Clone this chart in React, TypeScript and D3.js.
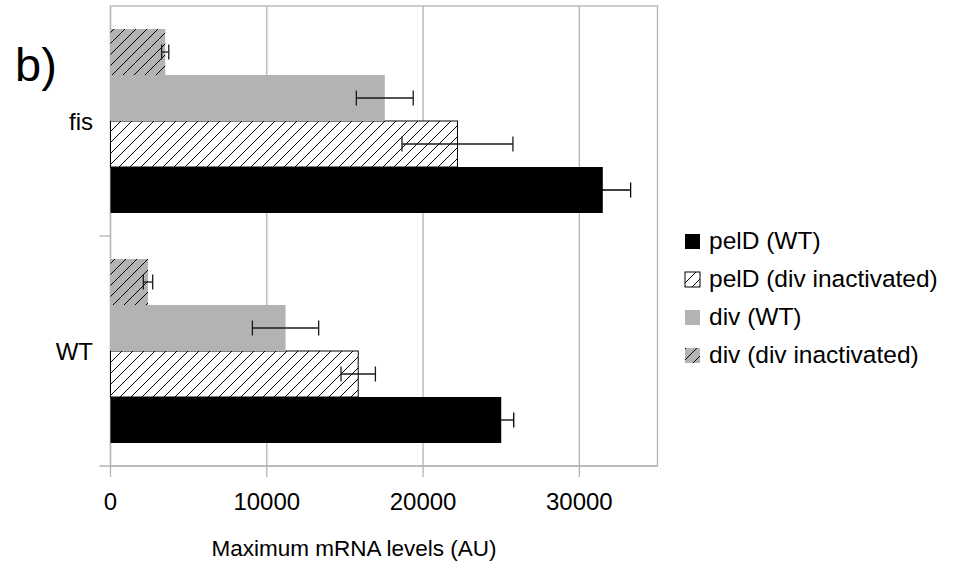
import React from "react";
import * as d3 from "d3";

const categories = ["fis", "WT"];
const seriesNames = ["pelD (WT)", "pelD (div inactivated)", "div (WT)", "div (div inactivated)"];
// values per category, in series order
const pelDWT = [31500, 25000];
const pelDDivInact = [22200, 15850];
const divWT = [17550, 11200];
const divDivInact = [3500, 2400];
const pelDWTErr = [1780, 800];
const pelDDivInactErr = [3550, 1100];
const divWTErr = [1820, 2120];
const divDivInactErr = [230, 300];
const xTicks = [0, 10000, 20000, 30000];

const W = 965;
const H = 567;
const left = 110.5;
const right = 657.5;
const top = 6;
const bottom = 466;

const styles = [
  { fill: "#000000", hatch: false, stroke: "none", err: "#000" },
  { fill: "#ffffff", hatch: true, stroke: "#000", err: "#1a1a1a" },
  { fill: "#b3b3b3", hatch: false, stroke: "none", err: "#1a1a1a" },
  { fill: "#b3b3b3", hatch: true, stroke: "none", err: "#1a1a1a" },
];

export default function App() {
  const x = d3.scaleLinear().domain([0, 35000]).range([left, right]);
  const y = d3.scaleBand<string>().domain(categories).range([top, bottom]);
  const bw = y.bandwidth();
  // top-to-bottom order inside a category
  const inner = d3
    .scaleBand<string>()
    .domain([seriesNames[3], seriesNames[2], seriesNames[1], seriesNames[0]])
    .range([bw * 0.1, bw * 0.9]);
  const values = [pelDWT, pelDDivInact, divWT, divDivInact];
  const errs = [pelDWTErr, pelDDivInactErr, divWTErr, divDivInactErr];
  const font = "'Liberation Sans', Arial, sans-serif";
  const grid = "#b3b3b3";

  return (
    <svg width={W} height={H} style={{ position: "absolute", left: 0, top: 0 }} fontFamily={font}>
      <defs>
        <pattern id="hatchW" patternUnits="userSpaceOnUse" width={11} height={11}>
          <rect width={11} height={11} fill="#fff" />
          <path d="M-1,1 L1,-1 M0,11 L11,0 M10,12 L12,10" stroke="#000" strokeWidth={1} />
        </pattern>
        <pattern id="hatchG" patternUnits="userSpaceOnUse" width={11} height={11}>
          <rect width={11} height={11} fill="#b3b3b3" />
          <path d="M-1,1 L1,-1 M0,11 L11,0 M10,12 L12,10" stroke="#000" strokeWidth={1} />
        </pattern>
      </defs>
      <rect width={W} height={H} fill="#fff" />
      {/* plot border */}
      <rect x={left} y={top} width={right - left} height={bottom - top} fill="none" stroke={grid} strokeWidth={1.3} />
      {/* gridlines */}
      {xTicks.map((t) => (
        <line key={t} x1={x(t)} x2={x(t)} y1={top} y2={bottom + 11} stroke={grid} strokeWidth={1.3} />
      ))}
      {/* bottom axis */}
      <line x1={left - 11} x2={right} y1={bottom} y2={bottom} stroke={grid} strokeWidth={1.3} />
      {/* category ticks */}
      {[top + bw].map((v) => (
        <line key={v} x1={left - 11} x2={left} y1={v} y2={v} stroke={grid} strokeWidth={1.3} />
      ))}
      {/* bars */}
      {categories.map((c, ci) =>
        seriesNames.map((s, si) => {
          const st = styles[si];
          const yy = (y(c) as number) + (inner(s) as number);
          const fill = st.hatch ? (si === 1 ? "url(#hatchW)" : "url(#hatchG)") : st.fill;
          return (
            <rect
              key={c + s}
              x={x(0)}
              y={yy}
              width={x(values[si][ci]) - x(0)}
              height={inner.bandwidth()}
              fill={fill}
              stroke={st.stroke}
              strokeWidth={1}
            />
          );
        })
      )}
      {/* error bars */}
      {categories.map((c, ci) =>
        seriesNames.map((s, si) => {
          const cy = (y(c) as number) + (inner(s) as number) + inner.bandwidth() / 2;
          const v = values[si][ci];
          const e = errs[si][ci];
          const x1 = x(v - e);
          const x2 = x(v + e);
          return (
            <g key={"e" + c + s} stroke={styles[si].err} strokeWidth={1.3}>
              <line x1={x1} x2={x2} y1={cy} y2={cy} />
              <line x1={x1} x2={x1} y1={cy - 7.5} y2={cy + 7.5} />
              <line x1={x2} x2={x2} y1={cy - 7.5} y2={cy + 7.5} />
            </g>
          );
        })
      )}
      {/* x tick labels */}
      {xTicks.map((t) => (
        <text key={"t" + t} x={x(t)} y={510} fontSize={24} textAnchor="middle" fill="#000">
          {t}
        </text>
      ))}
      {/* category labels */}
      {categories.map((c) => (
        <text
          key={"c" + c}
          x={93}
          y={(y(c) as number) + bw / 2 + 9}
          fontSize={24}
          textAnchor="end"
          fill="#000"
        >
          {c}
        </text>
      ))}
      {/* axis title */}
      <text x={354} y={556} fontSize={22.5} textAnchor="middle" fill="#000">
        Maximum mRNA levels (AU)
      </text>
      {/* panel label */}
      <text x={15} y={81} fontSize={47} fill="#000">
        b)
      </text>
      {/* legend */}
      {seriesNames.map((s, si) => {
        const st = styles[si];
        const ly = 234 + si * 38;
        const fill = st.hatch ? (si === 1 ? "url(#hatchW)" : "url(#hatchG)") : st.fill;
        return (
          <g key={"l" + s}>
            <rect x={685} y={ly} width={15} height={15} fill={fill} stroke={si === 1 ? "#000" : "none"} strokeWidth={1} />
            <text x={709} y={ly + 15} fontSize={24.5} fill="#000">
              {s}
            </text>
          </g>
        );
      })}
    </svg>
  );
}
